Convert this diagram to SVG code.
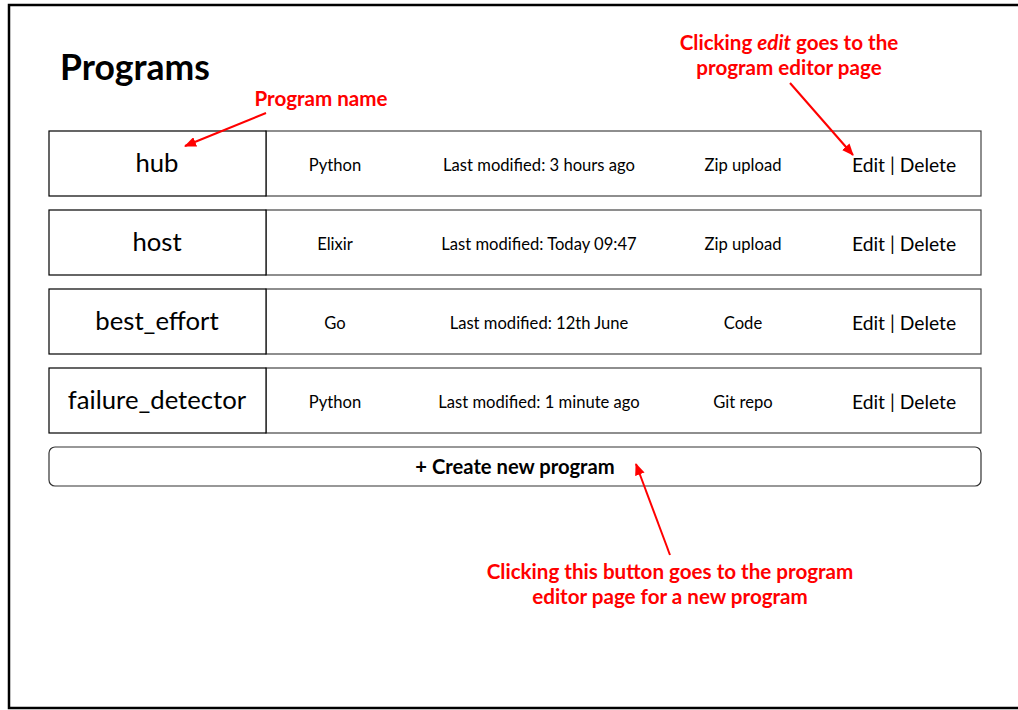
<svg xmlns="http://www.w3.org/2000/svg" width="1018" height="710" viewBox="0 0 1018 710">
  <style>
    text { font-family: "Lato", "Noto Sans", sans-serif; fill: #000; }
    .title { font-size: 35.5px; font-weight: bold; }
    .name { font-size: 25.7px; text-anchor: middle; }
    .cell { font-size: 16.6px; text-anchor: middle; }
    .act { font-size: 19.3px; text-anchor: middle; }
    .note { font-size: 20.6px; font-weight: bold; fill: #ff0000; text-anchor: middle; }
    .btn { font-size: 20.2px; font-weight: bold; text-anchor: middle; }
    .namebox { fill: #fff; stroke: #000; stroke-width: 1.2; }
    .infobox { fill: #fff; stroke: #444; stroke-width: 1.2; }
    .arrow { stroke: #ff0000; stroke-width: 2; fill: none; marker-end: url(#head); }
  </style>
  <defs>
    <marker id="head" viewBox="0 0 12 10" refX="11" refY="5" markerWidth="12" markerHeight="10" markerUnits="userSpaceOnUse" orient="auto">
      <path d="M0,0 L12,5 L0,10 Z" fill="#ff0000"/>
    </marker>
  </defs>

  <!-- page frame -->
  <rect x="0" y="0" width="1018" height="710" fill="#fff"/>
  <rect x="9" y="5" width="1020" height="703" fill="none" stroke="#000" stroke-width="2.5"/>

  <text class="title" x="60" y="80">Programs</text>

  <!-- program rows -->
  <g id="row-hub">
    <rect class="infobox" x="266" y="131" width="715" height="65"/>
    <rect class="namebox" x="49" y="131" width="217" height="65"/>
    <text class="name" x="157" y="172">hub</text>
    <text class="cell" x="335" y="171">Python</text>
    <text class="cell" x="539" y="171">Last modified: 3 hours ago</text>
    <text class="cell" x="743" y="171">Zip upload</text>
    <text class="act" x="904" y="172">Edit | Delete</text>
  </g>
  <g id="row-host">
    <rect class="infobox" x="266" y="210" width="715" height="65"/>
    <rect class="namebox" x="49" y="210" width="217" height="65"/>
    <text class="name" x="157" y="251">host</text>
    <text class="cell" x="335" y="250">Elixir</text>
    <text class="cell" x="539" y="250">Last modified: Today 09:47</text>
    <text class="cell" x="743" y="250">Zip upload</text>
    <text class="act" x="904" y="251">Edit | Delete</text>
  </g>
  <g id="row-best-effort">
    <rect class="infobox" x="266" y="289" width="715" height="65"/>
    <rect class="namebox" x="49" y="289" width="217" height="65"/>
    <text class="name" x="157" y="330">best_effort</text>
    <text class="cell" x="335" y="329">Go</text>
    <text class="cell" x="539" y="329">Last modified: 12th June</text>
    <text class="cell" x="743" y="329">Code</text>
    <text class="act" x="904" y="330">Edit | Delete</text>
  </g>
  <g id="row-failure-detector">
    <rect class="infobox" x="266" y="368" width="715" height="65"/>
    <rect class="namebox" x="49" y="368" width="217" height="65"/>
    <text class="name" x="157" y="409">failure_detector</text>
    <text class="cell" x="335" y="408">Python</text>
    <text class="cell" x="539" y="408">Last modified: 1 minute ago</text>
    <text class="cell" x="743" y="408">Git repo</text>
    <text class="act" x="904" y="409">Edit | Delete</text>
  </g>

  <!-- create button -->
  <g id="create-button">
    <rect x="49" y="447" width="932" height="39" rx="6" fill="#fff" stroke="#333" stroke-width="1.2"/>
    <text class="btn" x="515" y="474">+ Create new program</text>
  </g>

  <!-- annotations -->
  <g id="note-name">
    <text class="note" x="321" y="106">Program name</text>
  </g>
  <g id="note-edit">
    <text class="note" x="789" y="50">Clicking <tspan font-style="italic">edit</tspan> goes to the</text>
    <text class="note" x="789" y="75">program editor page</text>
  </g>
  <g id="note-create">
    <text class="note" x="670" y="579">Clicking this button goes to the program</text>
    <text class="note" x="670" y="604">editor page for a new program</text>
  </g>

  <g id="connectors">
    <line class="arrow" x1="266" y1="113" x2="185" y2="146"/>
    <line class="arrow" x1="790" y1="83" x2="853" y2="155"/>
    <line class="arrow" x1="670" y1="555" x2="636" y2="464"/>
  </g>
</svg>
